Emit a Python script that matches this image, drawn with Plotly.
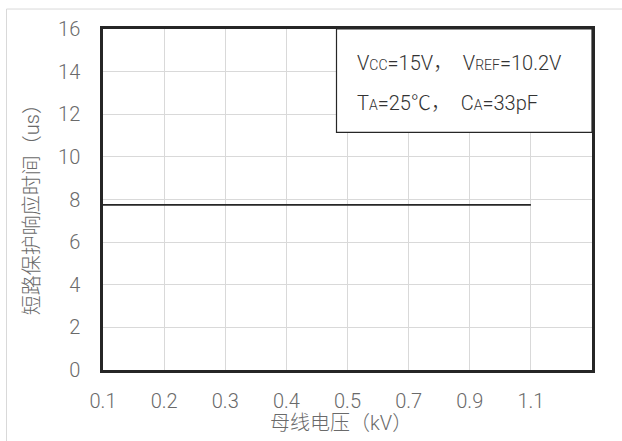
import plotly.graph_objects as go

# ---- data ----
categories = ["0.1", "0.2", "0.3", "0.4", "0.5", "0.7", "0.9", "1.1"]
response_us = [7.75, 7.75, 7.75, 7.75, 7.75, 7.75, 7.75, 7.75]
y_ticks = [0, 2, 4, 6, 8, 10, 12, 14, 16]
x_title = "母线电压（kV）"
y_title = "短路保护响应时间（us）"
note_line1 = 'V<span style="font-size:14px">CC</span>=15V，  V<span style="font-size:14px">REF</span>=10.2V'
note_line2 = 'T<span style="font-size:14px">A</span>=25℃，  C<span style="font-size:14px">A</span>=33pF'

W, H = 622, 441
L, R, T, B = 103, 592, 28.5, 370

def px(xp):
    return (xp - L) / (R - L)

def py(yp):
    return (B - yp) / (B - T)

FONT = "Roboto, 'Noto Sans CJK SC', sans-serif"
GREY = "#6a6a6a"

xi = list(range(len(categories)))

fig = go.Figure()
fig.add_trace(go.Scatter(
    x=xi, y=response_us, mode="lines",
    line=dict(color="#262626", width=1.6),
    showlegend=False, hoverinfo="skip",
))

fig.update_layout(
    width=W, height=H,
    margin=dict(l=L, r=W - R, t=T, b=H - B, pad=0),
    paper_bgcolor="white", plot_bgcolor="white",
    font=dict(family=FONT, color=GREY, size=20, weight=300),
    xaxis=dict(
        range=[0, len(categories)],
        tickmode="array",
        tickvals=list(range(len(categories) + 1)),
        ticktext=categories + [""],
        showgrid=True, gridcolor="#d9d9d9", gridwidth=1,
        zeroline=False,
        showline=True, mirror=True, linecolor="#262626", linewidth=2.5,
        ticks="", ticklabelstandoff=11,
        tickfont=dict(size=20, color=GREY, weight=300),
    ),
    yaxis=dict(
        range=[0, 16],
        tickmode="array", tickvals=y_ticks,
        showgrid=True, gridcolor="#d9d9d9", gridwidth=1,
        zeroline=False,
        showline=True, mirror=True, linecolor="#262626", linewidth=2.5,
        ticks="", ticklabelstandoff=16,
        tickfont=dict(size=20, color=GREY, weight=300),
    ),
    shapes=[
        dict(type="rect", xref="paper", yref="paper",
             x0=px(6.5), y0=py(460), x1=px(640), y1=py(8.5),
             line=dict(color="#d9d9d9", width=1), layer="below"),
        dict(type="rect", xref="paper", yref="paper",
             x0=px(336.5), y0=py(132), x1=1, y1=1,
             line=dict(color="#262626", width=1.2), fillcolor="white", layer="above"),
    ],
    annotations=[
        dict(text=x_title, xref="paper", yref="paper", x=px(341), y=py(423),
             showarrow=False, xanchor="center", yanchor="middle",
             font=dict(size=20, color=GREY, weight=300)),
        dict(text=y_title, xref="paper", yref="paper", x=px(32), y=py(205),
             showarrow=False, xanchor="center", yanchor="middle", textangle=-90,
             font=dict(size=20, color=GREY, weight=300)),
        dict(text=note_line1, xref="paper", yref="paper", x=px(355), y=py(63),
             showarrow=False, xanchor="left", yanchor="middle",
             font=dict(size=20, color="#333333", weight=300)),
        dict(text=note_line2, xref="paper", yref="paper", x=px(355), y=py(103),
             showarrow=False, xanchor="left", yanchor="middle",
             font=dict(size=20, color="#333333", weight=300)),
    ],
)

fig.write_html("out.html")
